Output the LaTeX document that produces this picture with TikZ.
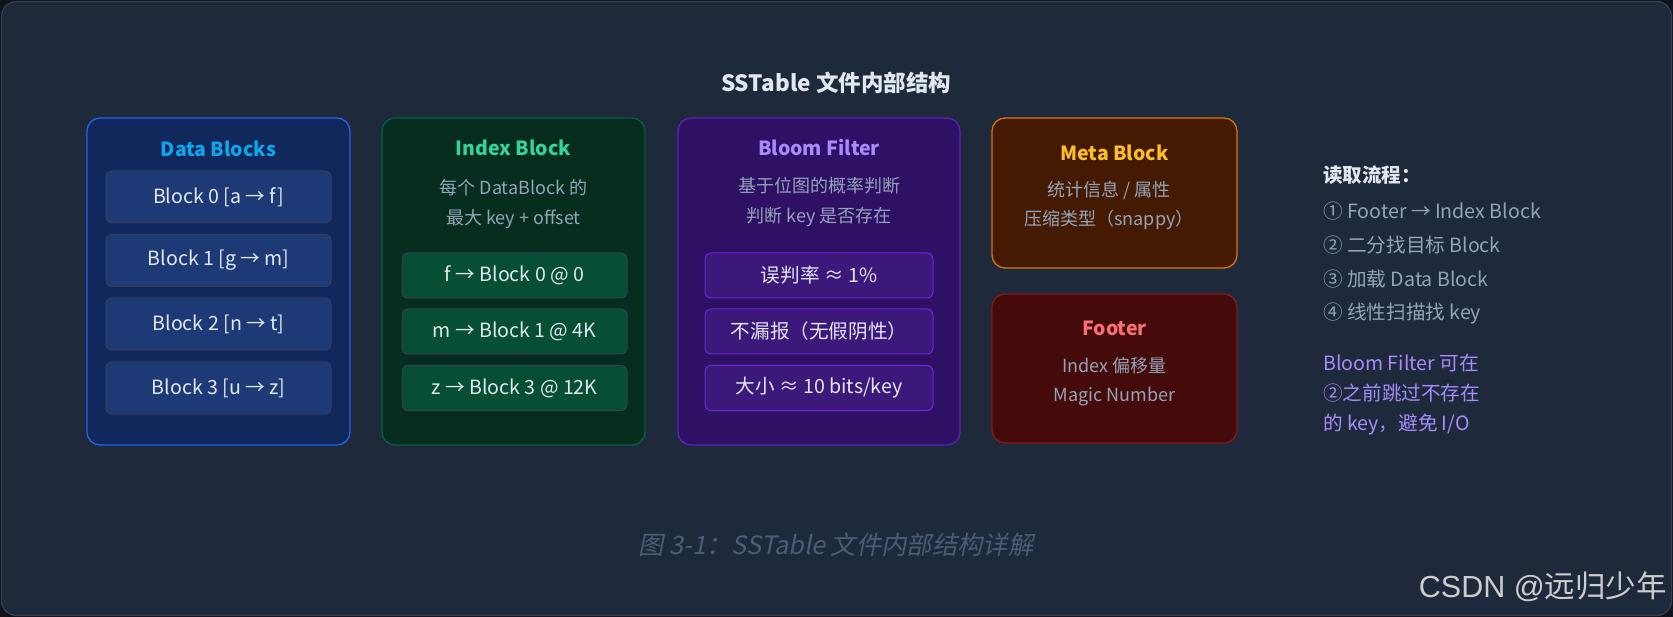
\documentclass[tikz,border=0pt]{standalone}
\usepackage{fontspec}
\setmainfont{Noto Sans CJK SC}
\newfontfamily\capfont[FakeSlant=0.2]{Noto Sans CJK SC}
\newfontfamily\markfont{Liberation Sans}
\definecolor{pagebg}{RGB}{17,19,24}
\definecolor{bg}{RGB}{30,41,59}
\definecolor{bgline}{RGB}{51,65,85}
\definecolor{txt}{RGB}{226,232,240}
\definecolor{sub}{RGB}{148,163,184}
\definecolor{dfill}{RGB}{16,40,92}
\definecolor{dline}{RGB}{37,99,235}
\definecolor{dinner}{RGB}{30,58,118}
\definecolor{dtitle}{RGB}{14,165,233}
\definecolor{ifill}{RGB}{6,45,30}
\definecolor{iline}{RGB}{6,95,70}
\definecolor{iinner}{RGB}{6,78,52}
\definecolor{ititle}{RGB}{52,211,153}
\definecolor{bfill}{RGB}{46,16,101}
\definecolor{bline}{RGB}{91,33,182}
\definecolor{binner}{RGB}{59,24,122}
\definecolor{binline}{RGB}{109,40,217}
\definecolor{btitle}{RGB}{167,139,250}
\definecolor{mfill}{RGB}{69,26,3}
\definecolor{mline}{RGB}{217,119,6}
\definecolor{mtitle}{RGB}{251,191,36}
\definecolor{ffill}{RGB}{69,10,10}
\definecolor{fline}{RGB}{127,29,29}
\definecolor{ftitle}{RGB}{248,113,113}
\definecolor{captxt}{RGB}{76,92,118}
\definecolor{wmark}{RGB}{205,205,205}
\begin{document}
\begin{tikzpicture}[x=1pt,y=-1pt,
  panel/.style={draw, line width=1.3pt, rounded corners=13pt, inner sep=0pt},
  cell/.style={draw, line width=1pt, rounded corners=6pt, inner sep=0pt, text=txt, font=\fontsize{19.6}{22}\selectfont},
  ttl/.style={inner sep=0pt, font=\fontsize{19.5}{22}\selectfont\bfseries},
  subt/.style={inner sep=0pt, text=sub, align=center, font=\fontsize{18}{29.5}\selectfont}
]
\fill[pagebg] (0,0) rectangle (1673,617);
\useasboundingbox (0,0) rectangle (1673,617);
\draw[fill=bg, draw=bgline, line width=1.2pt, rounded corners=15pt] (1.5,1.5) rectangle (1671.5,615.5);

\node[inner sep=0pt, text=txt, font=\fontsize{22.5}{26}\selectfont\bfseries] (title) at (836,83) {SSTable 文件内部结构};

% Data Blocks
\node[panel, fill=dfill, draw=dline, minimum width=263, minimum height=327] (data) at (218.5,281.5) {};
\node[ttl, text=dtitle] (datat) at (218.5,149) {Data Blocks};
\node[cell, fill=dinner, draw=bgline, minimum width=225, minimum height=52] (d0) at (218.5,197) {Block 0 [a → f]};
\node[cell, fill=dinner, draw=bgline, minimum width=225, minimum height=52] (d1) at (218.5,260.5) {Block 1 [g → m]};
\node[cell, fill=dinner, draw=bgline, minimum width=225, minimum height=52] (d2) at (218.5,324) {Block 2 [n → t]};
\node[cell, fill=dinner, draw=bgline, minimum width=225, minimum height=52] (d3) at (218.5,388) {Block 3 [u → z]};

% Index Block
\node[panel, fill=ifill, draw=iline, minimum width=263, minimum height=327] (index) at (513.5,281.5) {};
\node[ttl, text=ititle] (indext) at (513.5,148) {Index Block};
\node[subt] (indexs) at (513.5,204) {每个 DataBlock 的\\最大 key + offset};
\node[cell, fill=iinner, draw=bgline, minimum width=225, minimum height=45] (i0) at (514.5,275.5) {f → Block 0 @ 0};
\node[cell, fill=iinner, draw=bgline, minimum width=225, minimum height=45] (i1) at (514.5,331.5) {m → Block 1 @ 4K};
\node[cell, fill=iinner, draw=bgline, minimum width=225, minimum height=45] (i2) at (514.5,388) {z → Block 3 @ 12K};

% Bloom Filter
\node[panel, fill=bfill, draw=bline, minimum width=282, minimum height=327] (bloom) at (819,281.5) {};
\node[ttl, text=btitle] (bloomt) at (819,148) {Bloom Filter};
\node[subt] (blooms) at (819,202) {基于位图的概率判断\\判断 key 是否存在};
\node[cell, fill=binner, draw=binline, minimum width=228, minimum height=45] (b0) at (819,275.5) {误判率 ≈ 1\%};
\node[cell, fill=binner, draw=binline, minimum width=228, minimum height=45] (b1) at (819,331.5) {不漏报（无假阴性）};
\node[cell, fill=binner, draw=binline, minimum width=228, minimum height=45] (b2) at (819,388) {大小 ≈ 10 bits/key};

% Meta Block
\node[panel, fill=mfill, draw=mline, minimum width=245, minimum height=150] (meta) at (1114.5,193) {};
\node[ttl, text=mtitle] (metat) at (1114.5,153) {Meta Block};
\node[subt] (metas) at (1109,205.5) {统计信息 / 属性\\压缩类型（snappy）};

% Footer
\node[panel, fill=ffill, draw=fline, minimum width=245, minimum height=149] (footer) at (1114.5,368.5) {};
\node[ttl, text=ftitle] (footert) at (1114.5,328) {Footer};
\node[subt] (footers) at (1114.5,381.5) {Index 偏移量\\Magic Number};

% Read flow
\node[anchor=west, inner sep=0pt, text=txt, font=\fontsize{19.5}{22}\selectfont\bfseries] (flowt) at (1323,175) {读取流程：};
\node[anchor=north west, inner sep=0pt, text=sub, align=left, font=\fontsize{19.6}{33.7}\selectfont] (flow) at (1323,202) {① Footer → Index Block\\② 二分找目标 Block\\③ 加载 Data Block\\④ 线性扫描找 key};
\node[anchor=north west, inner sep=0pt, text=btitle, align=left, font=\fontsize{19.6}{30}\selectfont] (note) at (1323,354) {Bloom Filter 可在\\②之前跳过不存在\\的 key，避免 I/O};

% caption
\node[inner sep=0pt, text=captxt, font=\fontsize{25.3}{28}\selectfont\capfont] (cap) at (836,545) {图 3-1：SSTable 文件内部结构详解};
\node[anchor=east, inner sep=0pt, text=wmark, font=\fontsize{30.5}{33}\selectfont] (wm) at (1667,587) {{\markfont CSDN @}远归少年};
\end{tikzpicture}
\end{document}
